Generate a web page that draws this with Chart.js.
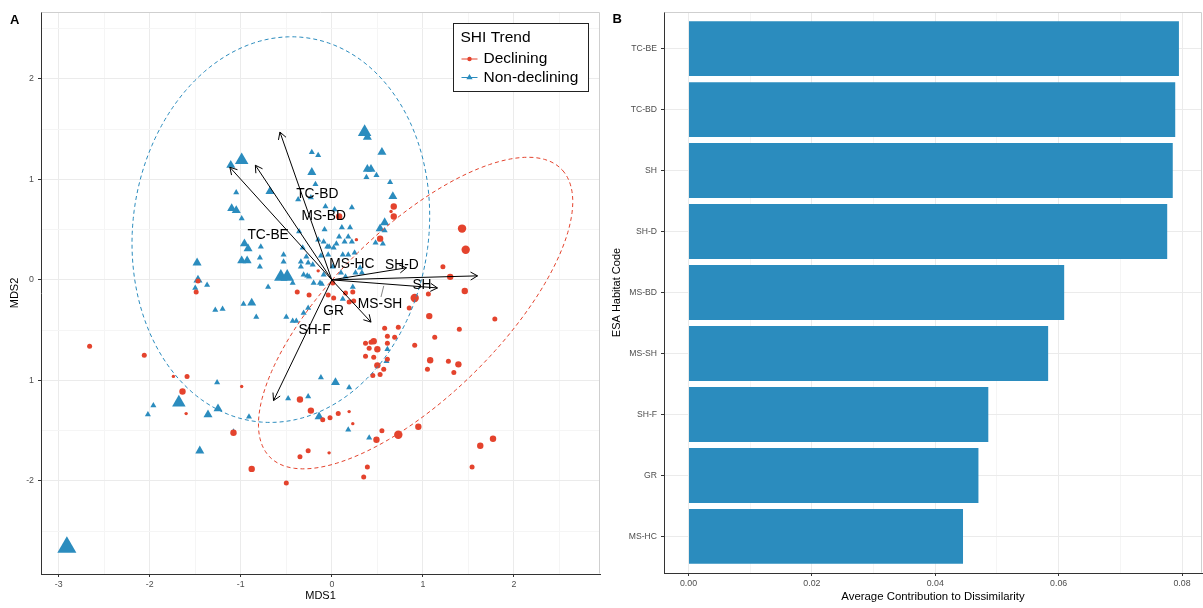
<!DOCTYPE html>
<html><head><meta charset="utf-8">
<script src="https://cdn.jsdelivr.net/npm/chart.js@4"></script>
<style>
html,body{margin:0;padding:0;background:#fff;}
#wrap{position:relative;width:1203px;height:608px;overflow:hidden;background:#fff;}
#c1{position:absolute;left:0;top:0;width:603px;height:608px;}
#c2{position:absolute;left:603px;top:0;width:600px;height:608px;}
.pl{position:absolute;font:bold 13px "Liberation Sans",Arial,sans-serif;line-height:13px;color:#000;}
</style></head>
<body><div id="wrap">
<canvas id="c1" width="603" height="608"></canvas>
<canvas id="c2" width="600" height="608"></canvas>
<div class="pl" style="left:10px;top:13px">A</div>
<div class="pl" style="left:612.5px;top:12px">B</div>
</div>
<script>
// ---------- Panel A data ----------
const decliningX = [0.68,0.68,0.65,0.53,0.27,0.08,1.43,1.47,1.22,1.30,
1.46,1.06,0.91,0.85,1.07,1.79,1.40,1.13,0.91,1.08,
1.28,1.39,1.05,1.34,0.95,0.73,0.55,0.49,1.63,1.77,
1.54,0.39,0.35,0.58,0.73,0.69,0.61,0.61,0.37,0.43,
0.46,0.41,0.50,0.37,0.46,0.50,0.57,0.45,0.53,0.61,
-2.06,-2.66,-1.74,-1.59,-1.64,-1.60,-0.99,-1.08,-0.88,-0.50,
-0.35,-0.23,-0.10,-0.02,0.07,0.19,0.23,-0.35,-0.26,-0.03,
-1.49,-1.47,-0.38,-0.15,0.02,0.15,0.23,0.24,0.19,-0.04,
-0.25,0.01];
const decliningY = [0.73,0.63,0.68,0.41,0.40,0.63,0.51,0.30,0.13,0.03,
-0.11,-0.14,-0.18,-0.28,-0.36,-0.39,-0.49,-0.57,-0.65,-0.80,
-0.81,-0.84,-0.89,-0.92,-1.46,-1.54,-1.50,-1.59,-1.65,-1.58,
-1.86,-1.86,-1.96,-0.48,-0.47,-0.57,-0.56,-0.63,-0.63,-0.62,
-0.61,-0.68,-0.69,-0.76,-0.77,-0.85,-0.89,-0.95,-0.94,-0.79,
-0.75,-0.66,-0.96,-0.96,-1.11,-1.33,-1.06,-1.52,-1.88,-2.02,
-1.19,-1.30,-1.39,-1.37,-1.33,-1.31,-1.43,-1.76,-1.70,-1.72,
-0.12,-0.01,-0.12,0.09,-0.18,-0.13,-0.12,-0.21,-0.22,-0.15,
-0.15,-0.03];
const decliningWeight = [3,3,1,3,1,3,4,4,2,3,
3,2,4,2,3,2,2,2,2,3,
2,3,2,2,3,4,2,3,3,3,
2,2,2,2,2,2,2,2,2,2,
3,2,3,2,2,3,2,2,2,2,
2,2,1,2,3,1,1,3,3,2,
3,3,2,2,2,1,1,2,2,1,
2,2,2,1,2,2,2,2,2,2,
2,2];

const nonDecliningX = [0.36,0.39,0.55,-0.22,-0.15,-0.22,-0.18,0.39,0.43,0.38,
0.49,0.64,0.67,-0.99,-1.11,-0.68,-1.05,-1.10,-1.05,-0.99,
-0.96,-0.92,-0.78,-0.99,-0.93,-0.79,-0.79,-1.48,-1.47,-1.50,
-1.37,-0.53,-0.53,-0.56,-0.49,-0.43,-0.70,-0.36,-0.32,-0.28,
-0.34,-0.23,-0.37,-0.07,-0.08,-0.15,-0.09,-0.05,-0.12,-0.04,
-0.31,-0.20,-0.25,-0.13,-0.09,0.03,0.22,0.11,0.20,0.08,
0.18,0.14,0.22,0.05,0.02,-0.03,0.12,0.18,0.25,0.31,
0.26,0.33,0.15,0.23,0.01,0.10,0.58,0.53,0.58,0.56,
0.48,-1.28,-1.20,-0.97,-0.88,-0.83,-0.50,-0.43,-0.27,-0.11,
0.12,-0.26,-0.31,-0.39,0.61,0.60,-1.26,-1.68,-1.96,-2.02,
-1.25,-1.36,-0.91,-1.08,-1.45,-0.48,-0.26,-0.14,-0.12,0.04,
0.19,0.18,0.41,-2.91,-0.34,-0.26,-0.21];
const nonDecliningY = [1.47,1.42,1.27,1.27,1.24,1.07,0.95,1.10,1.10,1.02,
1.04,0.97,0.83,1.19,1.14,0.88,0.87,0.71,0.69,0.61,
0.36,0.31,0.33,0.19,0.19,0.22,0.13,0.17,0.00,-0.08,
-0.05,0.25,0.18,0.03,0.03,-0.03,-0.07,0.48,0.32,0.23,
0.18,0.82,0.80,0.73,0.50,0.40,0.38,0.33,0.24,0.25,
0.05,-0.03,0.03,-0.03,0.05,0.70,0.72,0.52,0.52,0.43,
0.43,0.38,0.38,0.36,0.32,0.33,0.25,0.25,0.27,0.12,
0.07,0.07,0.03,-0.07,0.13,0.07,0.57,0.51,0.49,0.36,
0.37,-0.30,-0.29,-0.24,-0.23,-0.37,-0.37,-0.41,0.04,-0.04,
-0.19,-0.28,-0.33,-0.41,-0.69,-0.81,-1.02,-1.22,-1.25,-1.34,
-1.28,-1.34,-1.36,-1.51,-1.70,-1.18,-1.16,-1.36,-0.97,-1.02,
-1.07,-1.49,-1.57,-2.66,0.13,0.17,0.15];
const nonDecliningWeight = [3,2,2,1,1,2,1,2,2,1,
1,1,2,3,2,2,1,2,2,1,
2,2,1,2,2,1,1,2,2,1,
1,1,1,3,3,1,1,1,1,1,
1,1,1,1,1,1,1,1,1,1,
1,1,1,1,1,1,1,1,1,1,
1,1,1,1,1,1,1,1,1,1,
1,1,1,1,1,1,2,2,1,1,
1,1,1,1,2,1,1,1,1,1,
1,1,1,1,1,1,1,3,1,1,
2,2,1,1,2,1,1,2,1,2,
1,1,1,4,1,1,1];

// habitat vectors (arrows from origin)
const vectorEndX = [-1.12,-0.84,-0.57,0.82,1.60,1.16,0.43,-0.64];
const vectorEndY = [1.12,1.14,1.47,0.12,0.04,-0.08,-0.42,-1.20];
const vectorLabels = ['TC-BD','MS-BD','TC-BE','MS-HC','SH-D','SH','MS-SH','GR','SH-F'];
const vectorLabelX = [-0.16,-0.09,-0.70,0.22,0.77,0.99,0.53,0.02,-0.19];
const vectorLabelY = [0.85,0.63,0.44,0.16,0.15,-0.05,-0.24,-0.31,-0.50];
const repelSegX = [0.57,0.54];
const repelSegY = [-0.06,-0.17];

// group ellipses: [declining, non-declining]
const ellipseCenterX = [0.92,-0.56];
const ellipseCenterY = [-0.33,0.50];
const ellipseRadiusA = [2.15,1.62];
const ellipseRadiusB = [0.87,1.93];
const ellipseAngleDeg = [40.7,-12];

const xTickValues = [-3,-2,-1,0,1,2];
const xTickLabels = ['-3','-2','-1','0','1','2'];
const yTickValues = [-2,-1,0,1,2];
const yTickLabels = ['-2','1','0','1','2'];

// ---------- Panel B data ----------
const habitatCodes = ['TC-BE','TC-BD','SH','SH-D','MS-BD','MS-SH','SH-F','GR','MS-HC'];
const contribution = [0.0795,0.0789,0.0785,0.0776,0.0609,0.0583,0.0486,0.0470,0.0445];
const barTickValues = [0,0.02,0.04,0.06,0.08];
const barTickLabels = ['0.00','0.02','0.04','0.06','0.08'];

// ---------- styles ----------
const FONT = '"Liberation Sans", Arial, Helvetica, sans-serif';
const RED = '#E4432D', BLUE = '#2B8CBE';
const redRadius = {1:1.7, 2:2.5, 3:3.2, 4:4.2};
const blueRadius = {1:3.5, 2:5.2, 3:7.8, 4:11};
const MAJOR = '#EBEBEB', MINOR = '#F5F5F5', AXIS = '#333333', TICKTXT = '#4D4D4D';

function toPts(xs, ys){ return xs.map((x,i)=>({x:x, y:ys[i]})); }
function ellipsePts(k){
  const p=[], a=ellipseAngleDeg[k]*Math.PI/180;
  for(let i=0;i<=160;i++){
    const t=i/160*2*Math.PI, ex=ellipseRadiusA[k]*Math.cos(t), ey=ellipseRadiusB[k]*Math.sin(t);
    p.push({x:ellipseCenterX[k]+ex*Math.cos(a)-ey*Math.sin(a), y:ellipseCenterY[k]+ex*Math.sin(a)+ey*Math.cos(a)});
  }
  return p;
}
function isIn(v, arr){ return arr.some(a=>Math.abs(a-v)<1e-9); }
function ticksFrom(vals){ return s => { s.ticks = vals.map(v=>({value:v})); }; }
function range(a,b,st){ const r=[]; for(let v=a; v<=b+1e-9; v+=st) r.push(Math.round(v*1000)/1000); return r; }

const frame = {
  id:'frame',
  beforeDraw(chart){
    const {ctx} = chart;
    ctx.save(); ctx.fillStyle='#fff'; ctx.fillRect(0,0,chart.width,chart.height); ctx.restore();
  },
  afterDraw(chart){
    const {ctx, chartArea:ca} = chart;
    ctx.save(); ctx.strokeStyle='#CFCFCF'; ctx.lineWidth=1;
    ctx.beginPath();
    ctx.moveTo(Math.round(ca.left)+0.5, Math.round(ca.top)+0.5);
    ctx.lineTo(Math.round(ca.right)-0.5, Math.round(ca.top)+0.5);
    ctx.lineTo(Math.round(ca.right)-0.5, Math.round(ca.bottom)-0.5);
    ctx.stroke(); ctx.restore();
  }
};

const overlayA = {
  id:'overlayA',
  afterDatasetsDraw(chart){
    const {ctx, scales:{x,y}, chartArea:ca} = chart;
    ctx.save();
    ctx.strokeStyle='#000'; ctx.lineWidth=1;
    const x0=x.getPixelForValue(0), y0=y.getPixelForValue(0);
    vectorEndX.forEach((ex,i)=>{
      const x2=x.getPixelForValue(ex), y2=y.getPixelForValue(vectorEndY[i]);
      const ang=Math.atan2(y2-y0,x2-x0), L=8, s=Math.PI/6;
      ctx.beginPath();
      ctx.moveTo(x2-L*Math.cos(ang-s), y2-L*Math.sin(ang-s));
      ctx.lineTo(x2,y2);
      ctx.lineTo(x2-L*Math.cos(ang+s), y2-L*Math.sin(ang+s));
      ctx.stroke();
    });
    ctx.font='13.8px '+FONT; ctx.fillStyle='#000'; ctx.textAlign='center'; ctx.textBaseline='middle';
    vectorLabels.forEach((t,i)=>ctx.fillText(t, x.getPixelForValue(vectorLabelX[i]), y.getPixelForValue(vectorLabelY[i])));
    // legend
    const lx=Math.round(ca.right)-146.5, ly=Math.round(ca.top)+11.5, w=135, h=68;
    ctx.fillStyle='#fff'; ctx.fillRect(lx,ly,w,h);
    ctx.strokeStyle='#222'; ctx.lineWidth=1; ctx.strokeRect(lx,ly,w,h);
    ctx.fillStyle='#000'; ctx.textAlign='left'; ctx.textBaseline='middle';
    ctx.font='15.5px '+FONT;
    ctx.fillText('SHI Trend', lx+7, ly+14);
    ctx.fillText('Declining', lx+30, ly+35.5);
    ctx.fillText('Non-declining', lx+30, ly+54);
    ctx.lineWidth=1;
    ctx.strokeStyle=RED; ctx.beginPath(); ctx.moveTo(lx+8, ly+35.5); ctx.lineTo(lx+24, ly+35.5); ctx.stroke();
    ctx.fillStyle=RED; ctx.beginPath(); ctx.arc(lx+16, ly+35.5, 2.2, 0, Math.PI*2); ctx.fill();
    ctx.strokeStyle=BLUE; ctx.beginPath(); ctx.moveTo(lx+8, ly+54); ctx.lineTo(lx+24, ly+54); ctx.stroke();
    ctx.fillStyle=BLUE; ctx.beginPath();
    const r=3.6, cx=lx+16, cy=ly+54;
    ctx.moveTo(cx, cy-r); ctx.lineTo(cx+r*0.866, cy+r*0.5); ctx.lineTo(cx-r*0.866, cy+r*0.5); ctx.closePath(); ctx.fill();
    ctx.restore();
  }
};

const arrowSets = vectorEndX.map((ex,i)=>({
  type:'scatter', data:[{x:0,y:0},{x:ex,y:vectorEndY[i]}], showLine:true,
  borderColor:'#000', borderWidth:1, pointRadius:0, order:1
}));

const xMinorA = range(-2.5,2.5,1), xMajorA = xTickValues;
const yMinorA = range(-2.5,2.5,1), yMajorA = yTickValues;

new Chart(document.getElementById('c1'), {
  type:'scatter',
  data:{datasets:[
    ...arrowSets,
    {type:'scatter', data:toPts(repelSegX,repelSegY), showLine:true, borderColor:'#666', borderWidth:0.8, pointRadius:0, order:1},
    {data:ellipsePts(0), showLine:true, borderColor:RED, borderWidth:1, borderDash:[4,3], pointRadius:0, order:2},
    {data:ellipsePts(1), showLine:true, borderColor:BLUE, borderWidth:1, borderDash:[4,3], pointRadius:0, order:2},
    {data:toPts(decliningX,decliningY), backgroundColor:RED, borderWidth:0, pointStyle:'circle',
     pointRadius:c=>redRadius[decliningWeight[c.dataIndex]], order:3},
    {data:toPts(nonDecliningX,nonDecliningY), backgroundColor:BLUE, borderWidth:0, pointStyle:'triangle',
     pointRadius:c=>blueRadius[nonDecliningWeight[c.dataIndex]], order:4}
  ]},
  options:{
    responsive:false, animation:false, events:[], devicePixelRatio:1,
    layout:{autoPadding:false, padding:{left:0,right:3,top:12,bottom:0}},
    plugins:{legend:{display:false}, tooltip:{enabled:false}},
    scales:{
      x:{type:'linear', min:-3.194, max:2.945,
        afterBuildTicks:ticksFrom([...xMajorA, ...xMinorA].sort((a,b)=>a-b)),
        afterFit:s=>{s.height=34;},
        grid:{color:c=>isIn(c.tick.value,xMajorA)?MAJOR:MINOR, lineWidth:1, tickLength:3,
              tickColor:c=>isIn(c.tick.value,xMajorA)?AXIS:'rgba(0,0,0,0)'},
        border:{color:AXIS, width:1},
        ticks:{font:{family:FONT,size:8.8}, color:TICKTXT, padding:2, maxRotation:0, autoSkip:false,
          callback:v=>{const i=xTickValues.findIndex(a=>Math.abs(a-v)<1e-9); return i<0?'':xTickLabels[i];}},
        title:{display:true, text:'MDS1', font:{family:FONT,size:11}, color:'#000', padding:{top:0,bottom:5}}
      },
      y:{type:'linear', min:-2.925, max:2.664,
        afterBuildTicks:ticksFrom([...yMajorA, ...yMinorA].sort((a,b)=>a-b)),
        afterFit:s=>{s.width=41;},
        grid:{color:c=>isIn(c.tick.value,yMajorA)?MAJOR:MINOR, lineWidth:1, tickLength:3,
              tickColor:c=>isIn(c.tick.value,yMajorA)?AXIS:'rgba(0,0,0,0)'},
        border:{color:AXIS, width:1},
        ticks:{font:{family:FONT,size:8.8}, color:TICKTXT, padding:4, autoSkip:false,
          callback:v=>{const i=yTickValues.findIndex(a=>Math.abs(a-v)<1e-9); return i<0?'':yTickLabels[i];}},
        title:{display:true, text:'MDS2', font:{family:FONT,size:11}, color:'#000', padding:{top:8,bottom:0}}
      }
    }
  },
  plugins:[frame, overlayA]
});

// ---------- Panel B ----------
const xMajorB = barTickValues, xMinorB = [0.01,0.03,0.05,0.07];
const catIdx = habitatCodes.map((_,i)=>i);
new Chart(document.getElementById('c2'), {
  type:'bar',
  data:{datasets:[{data:contribution.map((v,i)=>({x:v, y:i})), backgroundColor:BLUE, borderWidth:0,
    barPercentage:0.9, categoryPercentage:1}]},
  options:{
    indexAxis:'y', responsive:false, animation:false, events:[], devicePixelRatio:1,
    layout:{autoPadding:false, padding:{left:0,right:1,top:12,bottom:0}},
    plugins:{legend:{display:false}, tooltip:{enabled:false}},
    scales:{
      x:{type:'linear', min:-0.00397, max:0.08324,
        afterBuildTicks:ticksFrom([...xMajorB, ...xMinorB].sort((a,b)=>a-b)),
        afterFit:s=>{s.height=35;},
        grid:{color:c=>isIn(c.tick.value,xMajorB)?MAJOR:MINOR, lineWidth:1, tickLength:3,
              tickColor:c=>isIn(c.tick.value,xMajorB)?AXIS:'rgba(0,0,0,0)'},
        border:{color:AXIS, width:1},
        ticks:{font:{family:FONT,size:8.8}, color:TICKTXT, padding:2, maxRotation:0, autoSkip:false,
          callback:v=>{const i=barTickValues.findIndex(a=>Math.abs(a-v)<1e-9); return i<0?'':barTickLabels[i];}},
        title:{display:true, text:'Average Contribution to Dissimilarity', font:{family:FONT,size:11.4}, color:'#000', padding:{top:0,bottom:4}}
      },
      y:{type:'linear', min:-0.6, max:8.6, reverse:true, offset:false,
        afterBuildTicks:ticksFrom(catIdx),
        afterFit:s=>{s.width=61;},
        grid:{offset:false, color:MAJOR, lineWidth:1, tickLength:3, tickColor:AXIS},
        border:{color:AXIS, width:1},
        ticks:{font:{family:FONT,size:8.6}, color:TICKTXT, padding:4, autoSkip:false,
          callback:v=>habitatCodes[Math.round(v)] ?? ''},
        title:{display:true, text:'ESA Habitat Code', font:{family:FONT,size:11}, color:'#000', padding:{top:7,bottom:0}}
      }
    }
  },
  plugins:[frame]
});
</script>
</body></html>
